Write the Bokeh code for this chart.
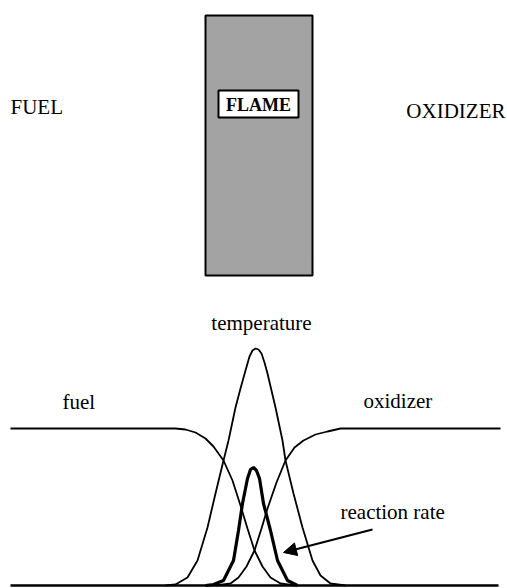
from bokeh.plotting import figure
from bokeh.models import Range1d, Arrow, NormalHead, ColumnDataSource
from bokeh.core.properties import value
from bokeh.embed import file_html
from bokeh.resources import INLINE

# ---- data (x: horizontal position, y: height above the baseline) ----
fuel_x = [10, 175, 185, 195, 205, 213, 223, 232, 240, 247, 254, 262, 270, 280, 295]
fuel_y = [157, 157, 156, 153, 147, 139, 125, 105, 80, 57, 35, 19, 8, 2, 0]

oxid_x = [215, 230, 238, 246, 254, 261, 267, 276, 285, 294, 303, 315, 327, 340, 500]
oxid_y = [0, 2, 8, 19, 35, 57, 77, 103, 125, 138, 145, 151, 154, 157, 157]

temp_x = [165, 175, 187, 197, 207, 215, 223, 228, 235, 240, 245, 249, 252, 255,
          258, 261, 264, 267, 271, 275, 282, 285, 293, 302, 312, 320, 330, 345]
temp_y = [0, 1, 8, 25, 58, 92, 125, 145, 178, 197, 215, 229, 235, 237,
          236, 232, 223, 212, 195, 178, 145, 125, 92, 58, 25, 10, 2, 0]

rate_x = [205, 213, 223, 233, 238, 242, 247, 250, 253, 256, 259, 263, 270, 277, 287, 297]
rate_y = [0, 1, 5, 25, 55, 82, 107, 116, 118, 115, 107, 82, 55, 25, 5, 0]

base_x = [10, 498]
base_y = [0, 0]

# flame diagram (top)
flame_rect = dict(left=[205], right=[312], bottom=[310], top=[570])
flame_label_box = dict(left=[218], right=[298], bottom=[468], top=[495])

big_labels = dict(x=[10, 505], y=[479, 475], text=["FUEL", "OXIDIZER"], align=["left", "right"])
flame_label = dict(x=[258], y=[481], text=["FLAME"])
curve_labels = dict(x=[261, 62, 363, 340], y=[263, 184, 185, 74],
                    text=["temperature", "fuel", "oxidizer", "reaction rate"],
                    align=["center", "left", "left", "left"])
arrow_tail = (372, 56)
arrow_tip = (283, 33)

p = figure(width=507, height=588, output_backend="svg", toolbar_location=None,
           x_range=Range1d(0, 507), y_range=Range1d(-3, 585), min_border=0)
p.axis.visible = False
p.grid.visible = False
p.outline_line_color = None
p.background_fill_color = "white"

serif = value("Liberation Serif")

# top diagram
p.quad(**flame_rect, fill_color="#a3a3a3", line_color="black", line_width=2)
p.quad(**flame_label_box, fill_color="white", line_color="black", line_width=2)
p.text(x=flame_label["x"], y=flame_label["y"], text=flame_label["text"],
       text_font=serif, text_font_size="18px", text_font_style="bold",
       text_align="center", text_baseline="middle", text_color="black")
src_big = ColumnDataSource(big_labels)
p.text(x="x", y="y", text="text", text_align="align", source=src_big,
       text_font=serif, text_font_size="21px", text_baseline="middle", text_color="black")

# bottom profiles
p.line(base_x, base_y, line_color="black", line_width=2.5)
p.line(fuel_x, fuel_y, line_color="black", line_width=1.8)
p.line(oxid_x, oxid_y, line_color="black", line_width=1.8)
p.line(temp_x, temp_y, line_color="black", line_width=1.8)
p.line(rate_x, rate_y, line_color="black", line_width=3.2)

src_lab = ColumnDataSource(curve_labels)
p.text(x="x", y="y", text="text", text_align="align", source=src_lab,
       text_font=serif, text_font_size="21px", text_baseline="middle", text_color="black")

p.add_layout(Arrow(end=NormalHead(size=13, fill_color="black", line_color="black"),
                   x_start=arrow_tail[0], y_start=arrow_tail[1],
                   x_end=arrow_tip[0], y_end=arrow_tip[1],
                   line_color="black", line_width=2))

open("out.html", "w").write(file_html(p, INLINE))
